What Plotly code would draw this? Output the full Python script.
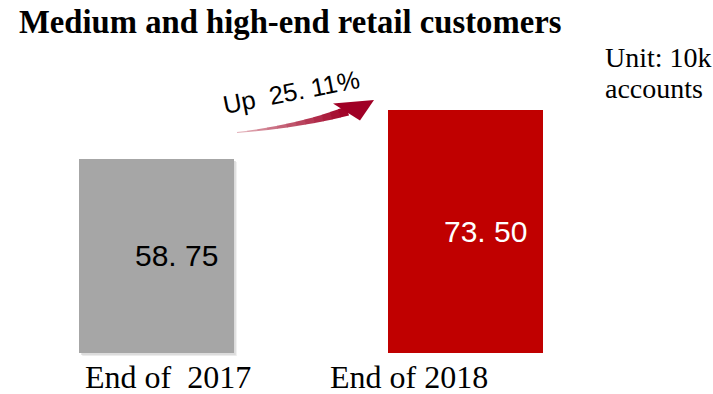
import plotly.graph_objects as go

# Data
categories = ["End of  2017", "End of 2018"]
values = [58.75, 73.50]
bar_colors = ["#a6a6a6", "#c00000"]
value_text_colors = ["#000000", "#ffffff"]
growth_label = "Up  25. 11%"
title_text = "Medium and high-end retail customers"
unit_lines = ["Unit: 10k", "accounts"]

W, H = 713, 394
x_pos = list(range(len(categories)))
X_RANGE = [-0.5065, 1.801]
Y_RANGE = [-12.41, 106.84]


def px(x):
    return x / W


def py(y):
    return 1 - y / H


def fmt(v):
    return f"{v:.2f}".replace(".", ". ")


fig = go.Figure()

# soft drop shadow behind the grey bar
x_unit = (X_RANGE[1] - X_RANGE[0]) / W
y_unit = (Y_RANGE[1] - Y_RANGE[0]) / H
for off, col in [(3, "#ececec"), (2, "#dcdcdc")]:
    fig.add_shape(type="rect", xref="x", yref="y", layer="below",
                  x0=x_pos[0] - 0.25 + off * x_unit, x1=x_pos[0] + 0.25 + off * x_unit,
                  y0=-off * y_unit, y1=values[0] - off * y_unit,
                  fillcolor=col, line_width=0)

fig.add_trace(go.Bar(
    x=x_pos, y=values, width=0.5,
    marker=dict(color=bar_colors, line_width=0),
    hoverinfo="skip",
))

annotations = []
# value labels, centred vertically inside each bar
for i, v in enumerate(values):
    annotations.append(dict(
        x=x_pos[i], y=v / 2, xref="x", yref="y", xshift=20,
        text=fmt(v), showarrow=False, xanchor="center", yanchor="middle",
        font=dict(family="Liberation Sans, Arial", size=30, color=value_text_colors[i]),
    ))

# category labels under the bars
cat_shift = [11, -57]
for i, c in enumerate(categories):
    annotations.append(dict(
        x=x_pos[i], y=py(377), xref="x", yref="paper", xshift=cat_shift[i],
        text=c, showarrow=False, xanchor="center", yanchor="middle",
        font=dict(family="Liberation Serif, Times New Roman", size=32, color="#000000"),
    ))

# title
annotations.append(dict(
    x=px(17), y=py(22), xref="paper", yref="paper", xanchor="left", yanchor="middle",
    text=f"<b>{title_text}</b>", showarrow=False,
    font=dict(family="Liberation Serif, Times New Roman", size=32.7, color="#000000"),
))

# unit note
for j, line in enumerate(unit_lines):
    annotations.append(dict(
        x=px(603), y=py(57 + 31 * j), xref="paper", yref="paper",
        xanchor="left", yanchor="middle",
        text=line, showarrow=False,
        font=dict(family="Liberation Serif, Times New Roman", size=28, color="#000000"),
    ))

# growth label above the arrow
annotations.append(dict(
    x=px(291), y=py(92), xref="paper", yref="paper",
    xanchor="center", yanchor="middle",
    text=growth_label, showarrow=False, textangle=-11,
    font=dict(family="Liberation Sans, Arial", size=25.5, color="#000000"),
))


# curved growth arrow, shaded from light at the tail to deep red at the head
def bez(t, p0, p1, p2):
    return ((1 - t) ** 2 * p0[0] + 2 * (1 - t) * t * p1[0] + t ** 2 * p2[0],
            (1 - t) ** 2 * p0[1] + 2 * (1 - t) * t * p1[1] + t ** 2 * p2[1])


P0, P1, P2 = (237, 132.5), (300, 126), (347, 111)
N = 12
c0, c1 = (236, 200, 205), (160, 0, 37)
pts = []
for k in range(N + 1):
    t = k / N
    x, y = bez(t, P0, P1, P2)
    dx = 2 * (1 - t) * (P1[0] - P0[0]) + 2 * t * (P2[0] - P1[0])
    dy = 2 * (1 - t) * (P1[1] - P0[1]) + 2 * t * (P2[1] - P1[1])
    n = (dx ** 2 + dy ** 2) ** 0.5
    nx, ny = -dy / n, dx / n
    w = 0.5 + 4.2 * t ** 1.3
    pts.append(((x + nx * w, y + ny * w), (x - nx * w, y - ny * w)))

shapes = []
for k in range(N):
    t = (k + 0.5) / N
    tt = t ** 0.7
    col = "rgb({},{},{})".format(*[int(a + (b - a) * tt) for a, b in zip(c0, c1)])
    (a1, a2), (b1, b2) = pts[k], pts[k + 1]
    path = "M {} {} L {} {} L {} {} L {} {} Z".format(
        px(a1[0]), py(a1[1]), px(b1[0] + 0.6), py(b1[1]),
        px(b2[0] + 0.6), py(b2[1]), px(a2[0]), py(a2[1]))
    shapes.append(dict(type="path", xref="paper", yref="paper", path=path,
                       fillcolor=col, line_width=0, layer="above"))

head = [(333, 103.5), (374, 100), (360, 120.5)]
shapes.append(dict(
    type="path", xref="paper", yref="paper", layer="above",
    path="M {} {} L {} {} L {} {} Z".format(*[c for p in head for c in (px(p[0]), py(p[1]))]),
    fillcolor="rgb(160,0,37)", line_width=0,
))

fig.update_layout(
    width=W, height=H,
    margin=dict(l=0, r=0, t=0, b=0),
    paper_bgcolor="#ffffff", plot_bgcolor="#ffffff",
    showlegend=False,
    xaxis=dict(range=X_RANGE, visible=False, fixedrange=True),
    yaxis=dict(range=Y_RANGE, visible=False, fixedrange=True),
    annotations=annotations,
    bargap=0,
)
for s in shapes:
    fig.add_shape(**s)

fig.write_html("out.html")
